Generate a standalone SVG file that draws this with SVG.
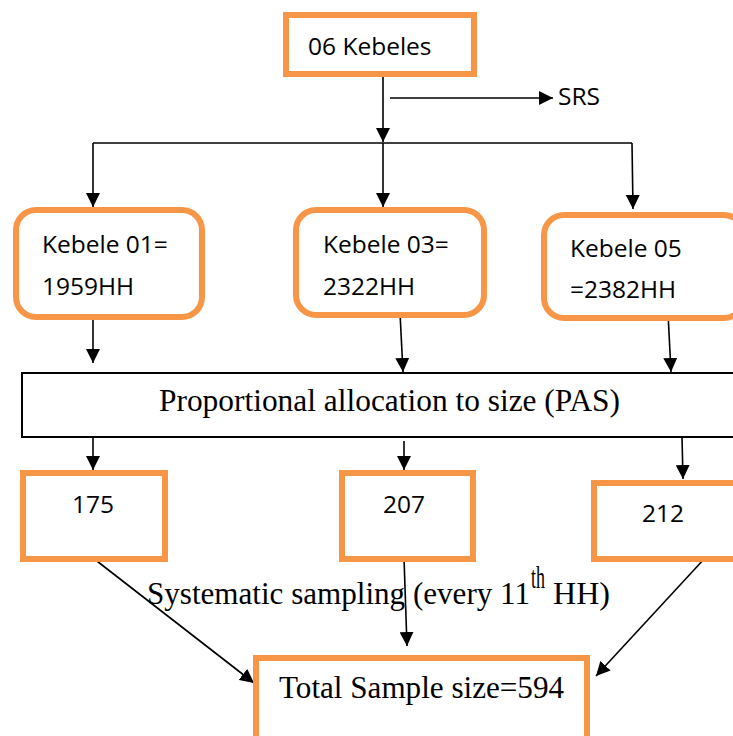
<svg xmlns="http://www.w3.org/2000/svg" width="733" height="736" viewBox="0 0 733 736">
  <style>
    .box { fill: #ffffff; stroke: #F79646; stroke-width: 6; }
    .plain { fill: #ffffff; stroke: #000000; stroke-width: 2; }
    .sans { font-family: "Open Sans", "Liberation Sans", sans-serif; font-size: 24.5px; fill: #000000; }
    .serif { font-family: "Liberation Serif", "Times New Roman", serif; font-size: 31px; fill: #000000; }
    .conn { stroke: #000000; stroke-width: 1.6; fill: none; }
    .arr { marker-end: url(#head); }
  </style>
  <defs>
    <marker id="head" markerUnits="userSpaceOnUse" markerWidth="14" markerHeight="14" viewBox="0 0 14 14" refX="14" refY="7" orient="auto">
      <path d="M0,0 L14,7 L0,14 Z" fill="#000000"/>
    </marker>
  </defs>

  <rect width="733" height="736" fill="#ffffff"/>

  <!-- connectors -->
  <g id="connectors">
    <line class="conn arr" x1="383" y1="77" x2="383" y2="142"/>
    <line class="conn arr" x1="390" y1="98" x2="553" y2="98"/>
    <line class="conn" x1="93" y1="143" x2="632" y2="143"/>
    <line class="conn arr" x1="93" y1="143" x2="93" y2="207"/>
    <line class="conn arr" x1="383" y1="143" x2="383" y2="207"/>
    <line class="conn arr" x1="632" y1="143" x2="633" y2="209"/>
    <line class="conn arr" x1="93" y1="313" x2="93" y2="363"/>
    <line class="conn arr" x1="400" y1="313" x2="403" y2="372"/>
    <line class="conn arr" x1="668" y1="313" x2="671" y2="372"/>
    <line class="conn arr" x1="93" y1="437" x2="93" y2="470"/>
    <line class="conn arr" x1="404" y1="441" x2="404" y2="470"/>
    <line class="conn arr" x1="682" y1="437" x2="683" y2="479"/>
    <line class="conn arr" x1="93" y1="558" x2="254" y2="683"/>
    <line class="conn arr" x1="404" y1="558" x2="407" y2="646"/>
    <line class="conn arr" x1="705" y1="558" x2="596" y2="676"/>
  </g>

  <g id="kebeles">
    <rect class="box" x="286" y="15" width="188" height="59"/>
    <text class="sans" x="308" y="55">06 Kebeles</text>
  </g>

  <g id="srs">
    <text class="sans" x="558" y="105">SRS</text>
  </g>

  <g id="kebele01">
    <rect class="box" x="16" y="210" width="186" height="107" rx="20" ry="20"/>
    <text class="sans" x="42" y="253">Kebele 01=</text>
    <text class="sans" x="42" y="295">1959HH</text>
  </g>

  <g id="kebele03">
    <rect class="box" x="296" y="210" width="188" height="105" rx="20" ry="20"/>
    <text class="sans" x="323" y="253">Kebele 03=</text>
    <text class="sans" x="323" y="295">2322HH</text>
  </g>

  <g id="kebele05">
    <rect class="box" x="544" y="215" width="200" height="103" rx="20" ry="20"/>
    <text class="sans" x="570" y="257">Kebele 05</text>
    <text class="sans" x="570" y="298">=2382HH</text>
  </g>

  <g id="pas">
    <rect class="plain" x="22" y="373" width="720" height="64"/>
    <text class="serif" x="159" y="411" textLength="461" lengthAdjust="spacingAndGlyphs">Proportional allocation to size (PAS)</text>
  </g>

  <g id="n175">
    <rect class="box" x="23" y="473" width="142" height="86"/>
    <text class="sans" x="93" y="513" text-anchor="middle">175</text>
  </g>

  <g id="n207">
    <rect class="box" x="342" y="473" width="131" height="86"/>
    <text class="sans" x="404" y="513" text-anchor="middle">207</text>
  </g>

  <g id="n212">
    <rect class="box" x="594" y="483" width="150" height="76"/>
    <text class="sans" x="663" y="522" text-anchor="middle">212</text>
  </g>

  <g id="sampling">
    <text class="serif" x="147" y="604" textLength="383" lengthAdjust="spacingAndGlyphs">Systematic sampling (every 11</text>
    <text class="serif" x="531" y="588" font-size="16" textLength="14" lengthAdjust="spacingAndGlyphs">th</text>
    <text class="serif" x="553" y="604" textLength="57" lengthAdjust="spacingAndGlyphs">HH)</text>
  </g>

  <g id="total">
    <rect class="box" x="256" y="658" width="331" height="90"/>
    <text class="serif" x="279" y="698" font-size="30" textLength="285" lengthAdjust="spacingAndGlyphs">Total Sample size=594</text>
  </g>
</svg>
